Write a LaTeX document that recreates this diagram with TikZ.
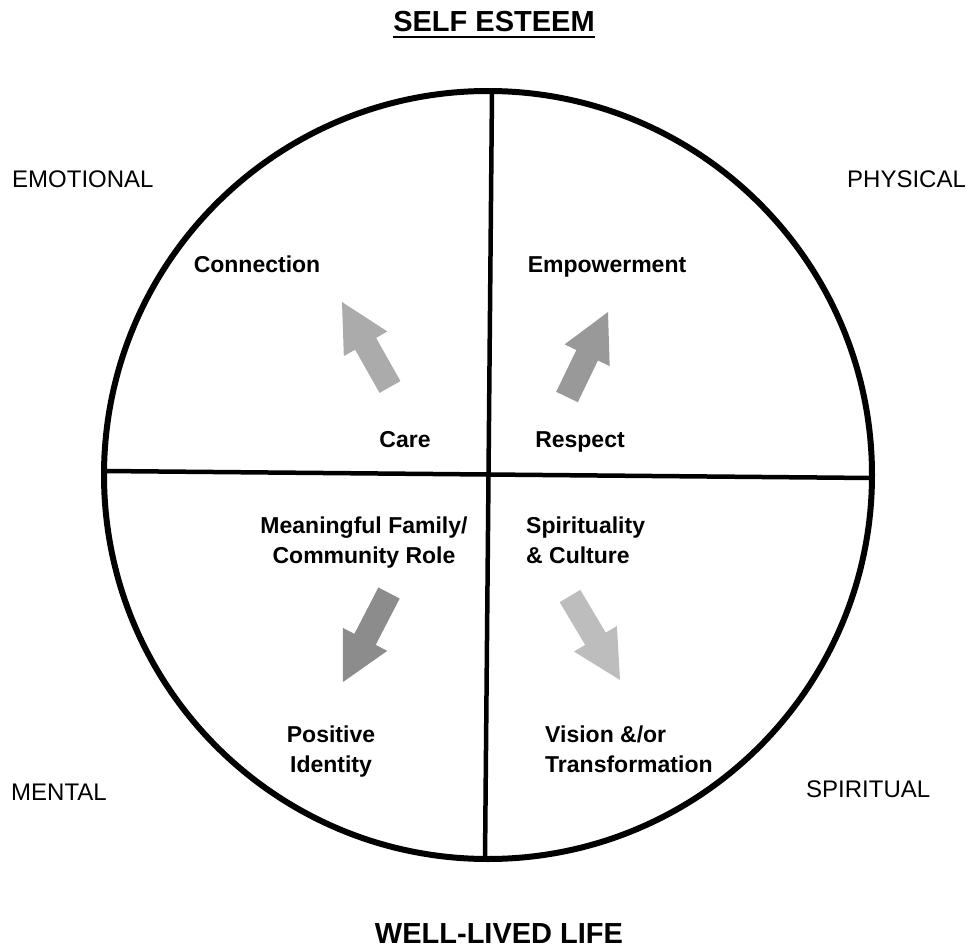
\documentclass[tikz,border=0pt]{standalone}
\usepackage{fontspec}
\setmainfont{Liberation Sans}
\usetikzlibrary{calc}
\definecolor{arrowA}{HTML}{ABABAB}
\definecolor{arrowB}{HTML}{999999}
\definecolor{arrowC}{HTML}{8C8C8C}
\definecolor{arrowD}{HTML}{BDBDBD}
% broad block arrow from tail #1 to tip #2, filled with colour #3
\newcommand\fatarrow[3]{%
  \coordinate (fa-b) at ($(#2)!48pt!(#1)$);
  \fill[#3] ($(#1)!12pt!90:(#2)$) -- ($(fa-b)!12pt!90:(#2)$) -- ($(fa-b)!25pt!90:(#2)$)
    -- (#2) -- ($(fa-b)!25pt!-90:(#2)$) -- ($(fa-b)!12pt!-90:(#2)$)
    -- ($(#1)!12pt!-90:(#2)$) -- cycle;}
\begin{document}
\begin{tikzpicture}[x=1pt,y=-1pt,
  corner/.style={font=\fontsize{24}{28}\selectfont, anchor=base west, inner sep=0pt},
  title/.style={font=\fontsize{29}{34}\selectfont\bfseries, anchor=base, inner sep=0pt},
  value/.style={font=\fontsize{23}{30}\selectfont\bfseries, inner sep=0pt},
  ring/.style={line width=6pt},
  divider/.style={line width=4.5pt},
]
\useasboundingbox (0,0) rectangle (970,950);

% wheel
\coordinate (c) at (488,475);
\draw[ring] (c) circle[radius=384];
\coordinate (top) at (492,91);
\coordinate (bottom) at (485,860);
\coordinate (left) at (104,471);
\coordinate (right) at (872,478);
\draw[divider] (top) -- (bottom);
\draw[divider] (left) -- (right);

% headings
\node[title] (se) at (494,32) {SELF ESTEEM};
\draw[line width=2pt] ([yshift=-5.5pt]se.base west) -- ([yshift=-5.5pt]se.base east);
\node[title] (wll) at (499,943) {WELL-LIVED LIFE};

% corner labels
\node[corner] (emo) at (12,187) {EMOTIONAL};
\node[corner] (phy) at (847,187) {PHYSICAL};
\node[corner] (men) at (11,800) {MENTAL};
\node[corner] (spi) at (806,797) {SPIRITUAL};

% quadrant labels
\node[value, anchor=base] (conn) at (257,272) {Connection};
\node[value, anchor=base] (emp) at (607,272) {Empowerment};
\node[value, anchor=base] (care) at (405,447) {Care};
\node[value, anchor=base] (resp) at (580,447) {Respect};
\node[value, anchor=base] (role) at (364,533)
  {\begin{tabular}[t]{@{}c@{}}Meaningful Family/\\Community Role\end{tabular}};
\node[value, anchor=base west] (cult) at (526,533)
  {\begin{tabular}[t]{@{}l@{}}Spirituality\\\& Culture\end{tabular}};
\node[value, anchor=base] (ident) at (331,742)
  {\begin{tabular}[t]{@{}c@{}}Positive\\Identity\end{tabular}};
\node[value, anchor=base west] (vis) at (545,742)
  {\begin{tabular}[t]{@{}l@{}}Vision \&/or\\Transformation\end{tabular}};

% arrows
\coordinate (careT) at (390,387);  \coordinate (careH) at (342,302);
\coordinate (respT) at (567,397);  \coordinate (respH) at (608,312);
\coordinate (roleT) at (389,593);  \coordinate (roleH) at (343,682);
\coordinate (cultT) at (570,596);  \coordinate (cultH) at (620,680);
\fatarrow{careT}{careH}{arrowA}
\fatarrow{respT}{respH}{arrowB}
\fatarrow{roleT}{roleH}{arrowC}
\fatarrow{cultT}{cultH}{arrowD}
\end{tikzpicture}
\end{document}
